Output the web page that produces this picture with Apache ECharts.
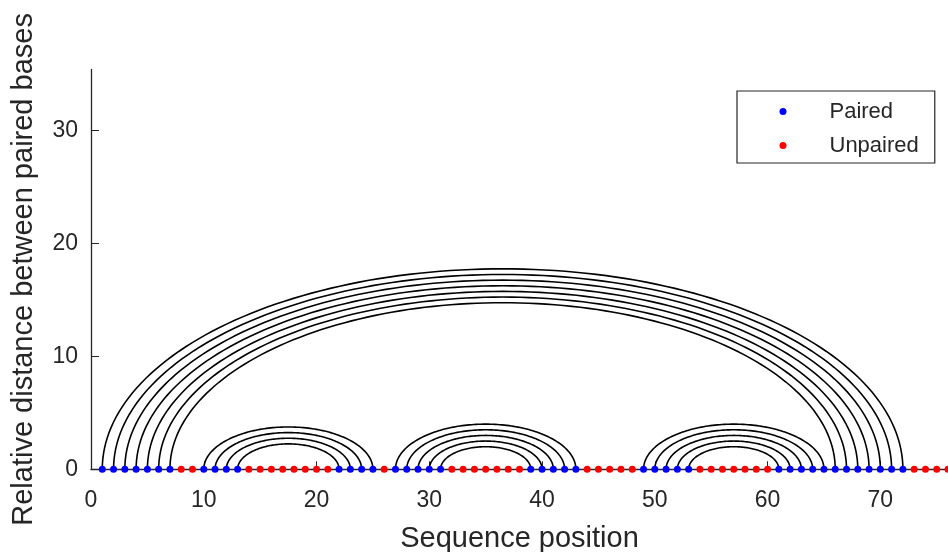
<!DOCTYPE html>
<html>
<head>
<meta charset="utf-8">
<script src="https://cdn.jsdelivr.net/npm/echarts@6/dist/echarts.min.js"></script>
<style>
html,body{margin:0;padding:0;background:#fff;}
#chart{width:948px;height:552px;}
</style>
</head>
<body>
<div id="chart"></div>
<script>
// Sequence length (positions 1..76)
var seqLength = 76;
// Base pairs: 5' position and its partner 3' position
var pair5 = [1, 2, 3, 4, 5, 6, 7, 10, 11, 12, 13, 27, 28, 29, 30, 31, 49, 50, 51, 52, 53];
var pair3 = [72, 71, 70, 69, 68, 67, 66, 25, 24, 23, 22, 43, 42, 41, 40, 39, 65, 64, 63, 62, 61];
// Axis ticks
var xTicks = [0, 10, 20, 30, 40, 50, 60, 70];
var yTicks = [0, 10, 20, 30];
var xMax = 76;
var yMax = 35.4;

var pairedSet = {};
var arcData = [];
for (var k = 0; k < pair5.length; k++) {
  pairedSet[pair5[k]] = true;
  pairedSet[pair3[k]] = true;
  arcData.push([pair5[k], pair3[k]]);
}
var pairedPts = [], unpairedPts = [];
for (var p = 1; p <= seqLength; p++) {
  if (pairedSet[p]) pairedPts.push([p, 0]); else unpairedPts.push([p, 0]);
}

var ink = '#262626';
var chart = echarts.init(document.getElementById('chart'), null, {renderer: 'canvas'});
chart.setOption({
  animation: false,
  backgroundColor: '#ffffff',
  textStyle: {fontFamily: '"Liberation Sans", Arial, Helvetica, sans-serif'},
  grid: {left: 91, right: 0, top: 69.5, bottom: 82.7, containLabel: false, outerBoundsMode: 'none'},
  xAxis: {
    type: 'value', min: 0, max: xMax,
    name: 'Sequence position', nameLocation: 'middle', nameGap: 55,
    nameTextStyle: {fontSize: 29, color: ink},
    axisLine: {show: true, onZero: false, lineStyle: {color: ink, width: 1.3}},
    axisTick: {show: true, inside: true, length: 8, lineStyle: {color: ink, width: 1}, customValues: xTicks},
    axisLabel: {fontSize: 23, color: ink, margin: 20, customValues: xTicks},
    splitLine: {show: false}
  },
  yAxis: {
    type: 'value', min: 0, max: yMax,
    name: 'Relative distance between paired bases', nameLocation: 'middle', nameGap: 53, nameRotate: 90,
    nameTextStyle: {fontSize: 29, color: ink},
    axisLine: {show: true, onZero: false, lineStyle: {color: ink, width: 1.3}},
    axisTick: {show: true, inside: true, length: 8, lineStyle: {color: ink, width: 1}, customValues: yTicks},
    axisLabel: {fontSize: 23, color: ink, margin: 13, customValues: yTicks},
    splitLine: {show: false}
  },
  legend: {
    orient: 'vertical', left: 737, top: 91,
    data: ['Paired', 'Unpaired'],
    icon: 'circle', itemWidth: 7, itemHeight: 7, itemGap: 10,
    padding: [8.5, 16, 5.5, 42.5],
    borderColor: ink, borderWidth: 1.2, backgroundColor: '#fff',
    formatter: function (name) { return '{t|' + name + '}'; },
    textStyle: {
      fontSize: 22, color: ink, lineHeight: 24,
      rich: {t: {fontSize: 22, color: ink, lineHeight: 24, padding: [0, 0, 0, 38]}}
    }
  },
  series: [
    {
      type: 'custom', name: 'arcs', data: arcData, silent: true, z: 2,
      encode: {x: [0, 1]},
      renderItem: function (params, api) {
        var a = api.value(0), b = api.value(1);
        var c = (a + b) / 2, rx = (b - a) / 2, ry = (b - a) / 4;
        var pts = [];
        var n = 120;
        for (var t = 0; t <= n; t++) {
          var th = Math.PI * t / n;
          pts.push(api.coord([c - rx * Math.cos(th), ry * Math.sin(th)]));
        }
        return {type: 'polyline', shape: {points: pts}, style: {stroke: '#000', lineWidth: 1.6, fill: null}};
      }
    },
    {
      type: 'scatter', name: 'Paired', data: pairedPts, symbol: 'circle', symbolSize: 7, z: 5,
      itemStyle: {color: '#0000ff', opacity: 1}
    },
    {
      type: 'scatter', name: 'Unpaired', data: unpairedPts, symbol: 'circle', symbolSize: 7, z: 5,
      itemStyle: {color: '#ff0000', opacity: 1}
    }
  ]
});
</script>
</body>
</html>
